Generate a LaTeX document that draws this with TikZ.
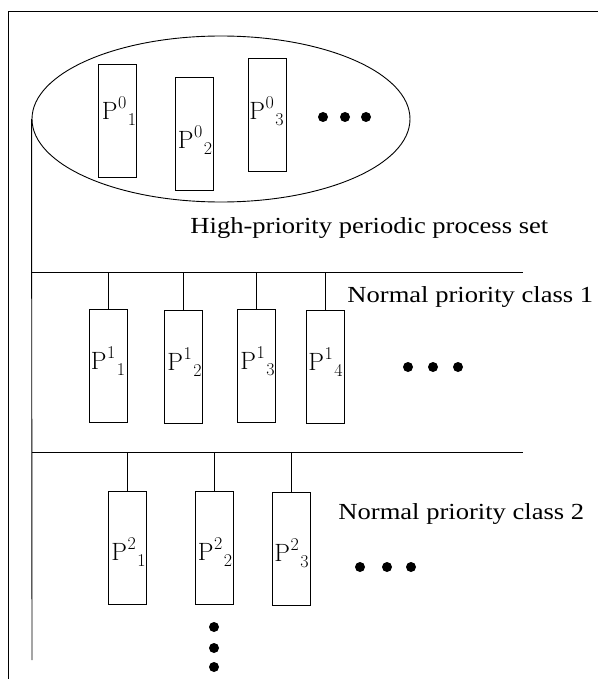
\documentclass[tikz,border=0pt]{standalone}
\usepackage{fontspec}
\usepackage{graphicx}
\setmainfont{Liberation Serif}
\newfontfamily\plabel{Latin Modern Roman}
\usetikzlibrary{shapes.geometric}
\newcommand{\widetext}[1]{\scalebox{1.155}[1]{#1}}
% process name: P with class index raised and member index lowered
\newcommand{\pname}[2]{P\kern0.5pt\raisebox{11pt}{\fontsize{18}{18}\selectfont #1}\kern1.5pt\raisebox{-6pt}{\fontsize{18}{18}\selectfont #2}}
\begin{document}
\begin{tikzpicture}[x=1pt,y=-1pt,
  line width=0.9pt,
  proc/.style={draw,rectangle,minimum width=38pt,minimum height=113pt,inner sep=0pt},
  plab/.style={font=\plabel\fontsize{25}{25}\selectfont,inner sep=0pt},
  caption/.style={font=\fontsize{23}{26}\selectfont,inner sep=0pt,anchor=west},
  dot/.style={circle,fill=black,inner sep=0pt,minimum size=10pt}]
\useasboundingbox (0,0) rectangle (598,679);
% outer frame (top and left edges)
\draw (8,679) -- (8,11) -- (598,11);
% high-priority set
\node[draw,ellipse,minimum width=378pt,minimum height=166pt,inner sep=0pt] (set) at (221,119) {};
\node[proc] (p01) at (117.5,121) {};
\node[proc] (p02) at (194,134) {};
\node[proc] (p03) at (267,114.5) {};
\node[plab] (l01) at (119,111) {\pname{0}{1}};
\node[plab] (l02) at (195,140) {\pname{0}{2}};
\node[plab] (l03) at (266.5,111) {\pname{0}{3}};
\node[dot] (d01) at (323,117) {};
\node[dot] (d02) at (345,117) {};
\node[dot] (d03) at (366,117) {};
\node[caption] (hp) at (190,228) {\widetext{High-priority periodic process set}};
% spine
\coordinate (spineBot) at (32,660);
\draw (set.west) -- (spineBot);
% class 1
\coordinate (b1s) at (32,272);
\coordinate (b1e) at (523,272);
\draw (b1s) -- (b1e);
\node[proc] (p11) at (108,365.5) {};
\node[proc] (p12) at (183,366.5) {};
\node[proc] (p13) at (256,365.5) {};
\node[proc] (p14) at (325,366.5) {};
\node[plab] (l11) at (108,361.5) {\pname{1}{1}};
\node[plab] (l12) at (184.5,362) {\pname{1}{2}};
\node[plab] (l13) at (257.5,361.5) {\pname{1}{3}};
\node[plab] (l14) at (325.5,362) {\pname{1}{4}};
\foreach \n in {p11,p12,p13,p14}{
  \draw (\n.north) -- (\n.north |- b1s);
}
\node[caption] (c1) at (347,297) {\widetext{Normal priority class 1}};
\node[dot] (d11) at (408,367) {};
\node[dot] (d12) at (433,367) {};
\node[dot] (d13) at (458,367) {};
% class 2
\coordinate (b2s) at (32,452);
\coordinate (b2e) at (523,452);
\draw (b2s) -- (b2e);
\node[proc] (p21) at (127,547.5) {};
\node[proc] (p22) at (214.5,547.5) {};
\node[proc] (p23) at (291,549) {};
\node[plab] (l21) at (128.5,552) {\pname{2}{1}};
\node[plab] (l22) at (215,552) {\pname{2}{2}};
\node[plab] (l23) at (291.5,553) {\pname{2}{3}};
\foreach \n in {p21,p22,p23}{
  \draw (\n.north) -- (\n.north |- b2s);
}
\node[caption] (c2) at (338,514) {\widetext{Normal priority class 2}};
\node[dot] (d21) at (360,567) {};
\node[dot] (d22) at (387,567) {};
\node[dot] (d23) at (411,567) {};
\node[dot] (v1) at (214,627) {};
\node[dot] (v2) at (214,648) {};
\node[dot] (v3) at (214,667) {};
\end{tikzpicture}
\end{document}
